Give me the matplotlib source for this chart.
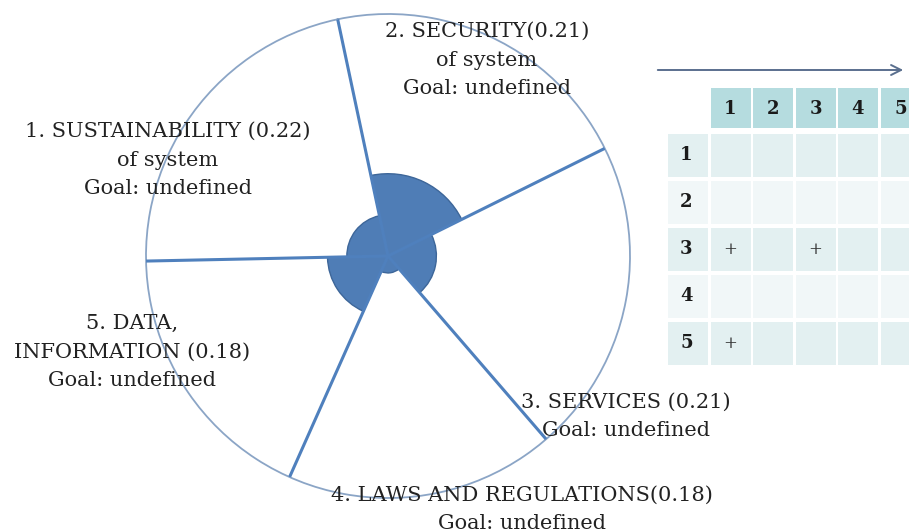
import numpy as np
import matplotlib.pyplot as plt
from matplotlib.patches import Rectangle

plt.rcParams["font.family"] = "DejaVu Serif"

# sectors, clockwise starting at the top spoke
labels = ["2. SECURITY(0.21)\nof system\nGoal: undefined",
          "3. SERVICES (0.21)\nGoal: undefined",
          "4. LAWS AND REGULATIONS(0.18)\nGoal: undefined",
          "5. DATA,\nINFORMATION (0.18)\nGoal: undefined",
          "1. SUSTAINABILITY (0.22)\nof system\nGoal: undefined"]
weights = [0.21, 0.21, 0.18, 0.18, 0.22]
levels = [0.34, 0.20, 0.07, 0.25, 0.17]   # filled part of each sector

# matrix on the right
col_names = ["1", "2", "3", "4", "5"]
row_names = ["1", "2", "3", "4", "5"]
marks = [(3, 1), (3, 3), (5, 1)]   # (row, col)

# label positions in pixels (x centre, y centre)
label_pos = [(487, 60), (626, 416), (522, 509), (132, 352), (168, 160)]

W, H = 909, 532
fig = plt.figure(figsize=(W / 100, H / 100), dpi=100)

# --- polar "pie" ---
cx, cy, R = 388, 256, 242
pax = fig.add_axes([(cx - R) / W, (H - cy - R) / H, 2 * R / W, 2 * R / H],
                   projection="polar")
pax.set_theta_offset(np.deg2rad(102))
pax.set_theta_direction(-1)
bounds = np.concatenate([[0], np.cumsum(weights)]) * 2 * np.pi
mids = (bounds[:-1] + bounds[1:]) / 2
widths = np.array(weights) * 2 * np.pi
pax.bar(mids, levels, width=widths, color="#4f7db6", edgecolor="#3d6699",
        linewidth=1.0, zorder=2)
for b in bounds[:-1]:
    pax.plot([b, b], [0, 1], color="#4f80bd", lw=2.2, zorder=3,
             solid_capstyle="butt")
pax.set_ylim(0, 1)
pax.set_xticks([])
pax.set_yticks([])
pax.grid(False)
pax.spines["polar"].set_color("#8ba5c6")
pax.spines["polar"].set_linewidth(1.3)

# --- overlay in pixel coordinates ---
ax = fig.add_axes([0, 0, 1, 1])
ax.set_xlim(0, W)
ax.set_ylim(H, 0)
ax.axis("off")
ax.patch.set_alpha(0)

for txt, (x, y) in zip(labels, label_pos):
    ax.text(x, y, txt, ha="center", va="center", multialignment="center",
            fontsize=15, color="#222222", linespacing=1.62)

ax.annotate("", xy=(906, 70), xytext=(655, 70),
            arrowprops=dict(arrowstyle="->", color="#5a6f8e", lw=1.4,
                            mutation_scale=18))

# table
x0, cw, cgap = 668, 40, 2.5
hy0, hh = 88, 40
ry0, rh, rgap = 134, 42.5, 4.5
header_c = "#b5dcdf"
row_c = ["#e3f0f1", "#f1f7f8"]

for j, name in enumerate(col_names):
    x = x0 + (j + 1) * (cw + cgap)
    ax.add_patch(Rectangle((x, hy0), cw, hh, color=header_c, lw=0))
    ax.text(x + cw / 2, hy0 + hh / 2 + 1, name, ha="center", va="center",
            fontsize=13, fontweight="bold", color="#1a1a1a")

for i, name in enumerate(row_names):
    y = ry0 + i * (rh + rgap)
    fc = row_c[i % 2]
    for j in range(len(col_names) + 1):
        x = x0 + j * (cw + cgap)
        ax.add_patch(Rectangle((x, y), cw, rh, color=fc, lw=0))
    ax.text(x0 + 12, y + rh / 2, name, ha="left", va="center",
            fontsize=13, fontweight="bold", color="#1a1a1a")

for r, c in marks:
    x = x0 + c * (cw + cgap) + cw / 2
    y = ry0 + (r - 1) * (rh + rgap) + rh / 2
    ax.text(x, y, "+", ha="center", va="center", fontsize=12, color="#333333")

fig.savefig("out.png", dpi=100)
